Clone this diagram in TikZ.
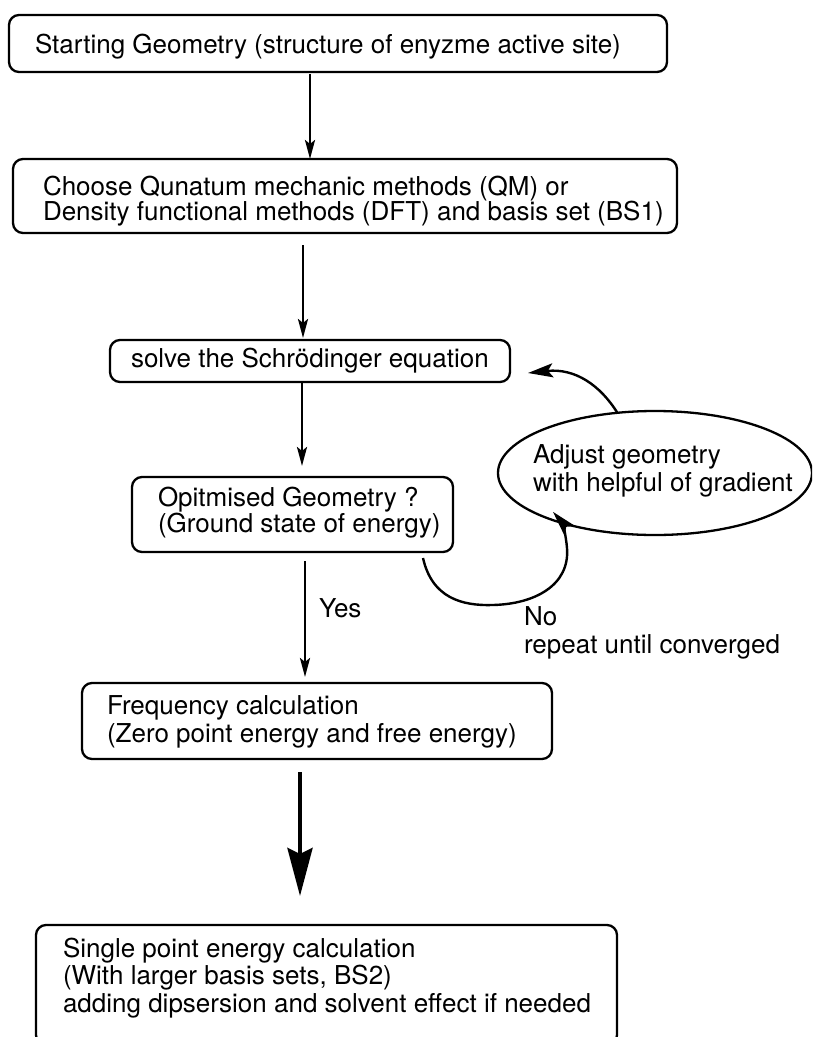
\documentclass[tikz,border=0pt]{standalone}
\usepackage{fontspec}
\setmainfont{TeX Gyre Heros}
\usetikzlibrary{arrows.meta,shapes.geometric,calc}
\begin{document}
\begin{tikzpicture}[x=1pt,y=-1pt,
  every node/.style={inner sep=0pt, outer sep=0pt},
  txt/.style={font=\fontsize{26}{#1}\selectfont, align=left},
  txt/.default=27,
  stepbox/.style={draw, line width=2.3pt, rounded corners=10pt},
  oval/.style={draw, ellipse, line width=2.3pt},
  arr/.style={line width=2.7pt, -{Stealth[length=19pt,width=10pt,inset=4pt]}},
  bigarr/.style={line width=4.5pt, -{Stealth[length=48pt,width=25pt,inset=6pt]}},
  curvarr/.style={line width=2.4pt, -{Stealth[length=25pt,width=14pt,inset=5pt]}},
]
\useasboundingbox (0,0) rectangle (812,1037);
\clip (0,0) rectangle (812,1037);

% boxes
\node[stepbox, minimum width=658pt, minimum height=57pt] (b1) at (338,43.5) {};
\node[stepbox, minimum width=664pt, minimum height=74pt] (b2) at (345,196) {};
\node[stepbox, minimum width=400pt, minimum height=42pt] (b3) at (310,361) {};
\node[stepbox, minimum width=321pt, minimum height=75pt] (b4) at (292.5,514.5) {};
\node[stepbox, minimum width=470pt, minimum height=76pt] (b5) at (317,721) {};
\node[stepbox, minimum width=581pt, minimum height=120pt] (b6) at (326.5,985) {};
\node[oval, minimum width=314pt, minimum height=124pt] (adj) at (655,473) {};

% texts
\node[txt, anchor=base west] (b1t) at (35,53) {Starting Geometry (structure of enyzme active site)};
\node[txt=25, anchor=north west] (b2t) at (43,176) {Choose Qunatum mechanic methods (QM) or\\Density functional methods (DFT) and basis set (BS1)};
\node[txt, anchor=base west] (b3t) at (131,367) {solve the Schrödinger equation};
\node[txt=26, anchor=north west] (b4t) at (158,487) {Opitmised Geometry ?\\(Ground state of energy)};
\node[txt=28, anchor=north west] (b5t) at (107,696) {Frequency calculation\\(Zero point energy and free energy)};
\node[txt=27.5, anchor=north west] (b6t) at (63,938) {Single point energy calculation\\(With larger basis sets, BS2)\\adding dipsersion and solvent effect if needed};
\node[txt=28, anchor=north west] (adjt) at (533,445) {Adjust geometry\\with helpful of gradient};
\node[txt, anchor=base west] (yes) at (319,617) {Yes};
\node[txt=28, anchor=north west] (no) at (524,607) {No\\repeat until converged};

% connectors
\draw[arr] ($(b1.south -| 310,0)+(0,2)$) -- (b2.north -| 310,0);
\draw[arr] ($(b2.south -| 303,0)+(0,12)$) -- ($(b3.north -| 303,0)+(0,-2)$);
\draw[arr] (b3.south -| 302,0) -- ($(b4.north -| 302,0)+(0,-11)$);
\draw[arr] ($(b4.south -| 305,0)+(0,9)$) -- ($(b5.north -| 305,0)+(0,-6)$);
\draw[bigarr] ($(b5.south -| 300,0)+(0,13)$) -- ($(b6.north -| 300,0)+(0,-29)$);

\draw[curvarr] (adj.122) .. controls (600,385) and (575,368) .. ([xshift=18pt,yshift=-12pt]b3.east);
\draw[curvarr] ([xshift=-30pt,yshift=-6pt]b4.south east)
  .. controls (432,598) and (462,606) .. (493,605)
  .. controls (535,604) and (570,585) .. (567,548)
  .. controls (566,535) and (562,522) .. ([xshift=9pt,yshift=5pt]adj.south west);
\end{tikzpicture}
\end{document}
